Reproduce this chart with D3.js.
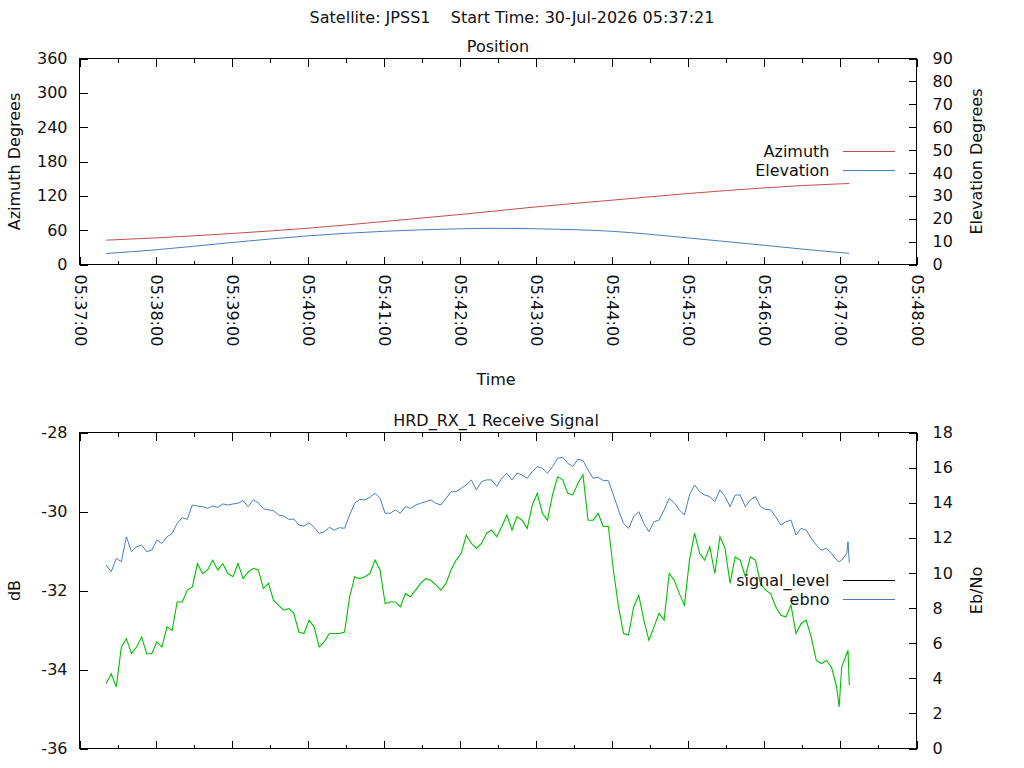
<!DOCTYPE html>
<html>
<head>
<meta charset="utf-8">
<script src="https://cdn.jsdelivr.net/npm/d3@7"></script>
<style>
  body { margin: 0; background: #fff; }
  svg text { font-family: "DejaVu Sans", sans-serif; font-size: 16px; fill: #111; }
  .tick line { stroke: #000; shape-rendering: crispEdges; }
</style>
</head>
<body>
<div id="chart"></div>
<script>
var width = 1024,
    height = 768;

// seconds after 05:37:00 UTC
var posTime   = [21, 60, 120, 180, 240, 300, 330, 360, 420, 480, 540, 600, 607];
var azimuth   = [42.5, 46.5, 54.2, 63.4, 75.1, 87.4, 94, 100.7, 112.4, 124, 133.9, 141, 141.5];
var elevation = [4.8, 6.4, 9.6, 12.5, 14.5, 15.6, 15.8, 15.6, 14.5, 11.6, 8.4, 5.2, 4.9];

var sigTime = [
  21,25,29,33,37,41,45,49,53,57,61,65,69,73,77,81,85,89,93,97,
  101,105,109,113,117,121,125,129,133,137,141,145,149,153,157,161,165,169,173,177,
  181,185,189,193,197,201,205,209,213,217,221,
  225,229,233,237,241,245,249,253,257,261,265,269,273,277,281,285,289,293,297,301,
  305,309,313,317,321,325,329,333,337,341,345,349,353,357,361,365,369,373,377,381,
  385,389,393,397,401,405,409,413,417,421,425,429,433,
  437,441,445,449,453,457,461,465,469,473,477,481,485,489,493,497,501,505,509,513,
  517,521,525,529,533,537,541,545,549,553,557,561,565,569,573,577,581,585,589,593,
  597,599,601,605,606,607
];

var ebno = [
  10.45,10.07,10.83,10.64,12.06,11.21,11.49,11.59,11.21,11.30,
  11.87,11.68,12.06,12.25,12.82,13.15,13.05,13.87,13.81,13.78,
  13.68,13.81,13.74,13.93,13.87,13.93,13.97,14.12,13.78,14.16,
  14.00,13.66,13.59,13.55,13.30,13.24,13.05,13.07,12.73,12.67,
  12.86,12.60,12.25,12.35,12.60,12.44,12.58,12.54,13.30,13.97,
  14.19,
  14.16,14.31,14.54,14.25,13.40,13.40,13.59,13.40,13.78,13.68,
  13.87,13.97,14.06,14.16,13.97,13.87,14.25,14.63,14.63,14.82,
  15.01,15.30,14.73,15.20,15.30,15.30,14.92,15.39,15.68,15.30,
  15.68,15.58,15.39,15.77,16.06,15.96,15.68,16.06,16.53,16.59,
  16.25,16.06,16.48,16.40,15.87,15.39,15.45,15.26,15.26,14.44,
  13.59,12.82,12.54,
  13.20,13.49,12.82,12.35,12.92,13.01,13.59,14.25,14.00,13.59,
  13.30,14.44,15.01,14.63,14.44,14.35,14.06,14.73,14.35,13.78,
  14.44,14.44,13.78,14.16,14.35,13.78,13.62,13.59,13.20,12.73,
  12.92,13.01,12.16,12.54,12.44,11.97,11.59,11.30,11.40,11.11,
  10.73,10.64,10.73,11.11,11.78,10.58
];

var signalLevel = [
  -34.36,-34.11,-34.44,-33.43,-33.22,-33.60,-33.43,-33.18,-33.60,-33.60,
  -33.30,-33.43,-32.92,-33.01,-32.29,-32.29,-31.99,-31.91,-31.32,-31.57,
  -31.48,-31.23,-31.48,-31.32,-31.57,-31.65,-31.32,-31.70,-31.53,-31.44,
  -31.48,-31.95,-31.82,-32.25,-32.37,-32.50,-32.46,-32.58,-33.05,-33.09,
  -32.75,-32.92,-33.43,-33.30,-33.09,-33.09,-33.09,-33.05,-32.16,-31.65,
  -31.70,
  -31.65,-31.57,-31.23,-31.48,-32.33,-32.29,-32.29,-32.41,-32.08,-32.16,
  -31.99,-31.82,-31.70,-31.74,-31.86,-31.99,-31.82,-31.48,-31.23,-31.06,
  -30.60,-30.81,-30.93,-30.81,-30.55,-30.47,-30.64,-30.38,-30.09,-30.47,
  -30.13,-30.22,-30.43,-29.84,-29.54,-30.05,-30.22,-29.58,-29.12,-29.20,
  -29.54,-29.58,-29.29,-29.07,-30.22,-30.22,-30.05,-30.38,-30.38,-31.48,
  -32.41,-33.09,-33.13,
  -32.41,-32.12,-32.75,-33.26,-32.92,-32.58,-32.75,-31.57,-31.74,-32.08,
  -32.37,-31.23,-30.55,-31.06,-31.23,-30.89,-31.57,-30.64,-30.93,-31.82,
  -31.15,-31.23,-31.65,-31.15,-31.23,-31.82,-31.99,-32.08,-32.41,-32.63,
  -32.67,-32.37,-33.09,-32.84,-32.75,-33.18,-33.77,-33.85,-33.77,-33.94,
  -34.44,-34.95,-33.94,-33.60,-33.51,-34.40
];

var azTicks = [0, 60, 120, 180, 240, 300, 360],
    elTicks = [0, 10, 20, 30, 40, 50, 60, 70, 80, 90],
    dbTicks = [-36, -34, -32, -30, -28],
    ebTicks = [0, 2, 4, 6, 8, 10, 12, 14, 16, 18];

var red = '#c0504d', blue = '#4a7ebb', green = '#00c000';

var t0 = Date.UTC(2026, 6, 30, 5, 37, 0);
function toDate(s) { return new Date(t0 + s * 1000); }
function plain(d) { return String(d); }   // keep ASCII hyphen for negatives

var left = 79.5, right = 916.5;
var x = d3.scaleUtc().domain([toDate(0), toDate(660)]).range([left, right]);

var svg = d3.select('#chart').append('svg')
    .attr('width', width)
    .attr('height', height)
    .style('display', 'block')
    .style('background', '#fff');

svg.append('text')
    .attr('x', 512).attr('y', 23)
    .attr('text-anchor', 'middle')
    .style('white-space', 'pre')
    .text('Satellite: JPSS1    Start Time: 30-Jul-2026 05:37:21');

// draws a framed panel with mirrored inward time ticks
function panel(top, bottom, yL, yR, lTicks, rTicks, showTime) {
  var g = svg.append('g');

  var xb = g.append('g').attr('transform', 'translate(0,' + bottom + ')');
  xb.call(d3.axisBottom(x).ticks(d3.utcSecond.every(30)).tickSize(-4).tickFormat(''));
  xb.select('.domain').remove();
  var xm = g.append('g').attr('transform', 'translate(0,' + bottom + ')');
  xm.call(d3.axisBottom(x).ticks(d3.utcMinute.every(1)).tickSize(-8)
      .tickFormat(showTime ? d3.utcFormat('%H:%M:%S') : ''));
  xm.select('.domain').remove();
  if (showTime) {
    xm.selectAll('text')
      .attr('dy', null)
      .attr('x', 10)
      .attr('y', 5.5)
      .attr('text-anchor', 'start')
      .attr('transform', 'rotate(90)');
  }

  var xt = g.append('g').attr('transform', 'translate(0,' + top + ')');
  xt.call(d3.axisTop(x).ticks(d3.utcSecond.every(30)).tickSize(-4).tickFormat(''));
  xt.select('.domain').remove();
  var xt2 = g.append('g').attr('transform', 'translate(0,' + top + ')');
  xt2.call(d3.axisTop(x).ticks(d3.utcMinute.every(1)).tickSize(-8).tickFormat(''));
  xt2.select('.domain').remove();

  var ya = g.append('g').attr('transform', 'translate(' + left + ',0)');
  ya.call(d3.axisLeft(yL).tickValues(lTicks).tickSize(-8).tickPadding(12).tickFormat(plain));
  ya.select('.domain').remove();

  var yb = g.append('g').attr('transform', 'translate(' + right + ',0)');
  yb.call(d3.axisRight(yR).tickValues(rTicks).tickSize(-8).tickPadding(16).tickFormat(plain));
  yb.select('.domain').remove();

  g.selectAll('.tick text').style('font-family', '"DejaVu Sans", sans-serif').style('font-size', '16px').attr('fill', '#111');

  g.append('rect')
    .attr('x', left).attr('y', top)
    .attr('width', right - left).attr('height', bottom - top)
    .attr('fill', 'none').attr('stroke', '#000').attr('stroke-width', 1)
    .attr('shape-rendering', 'crispEdges');
  return g;
}

function sideLabel(txt, xb, yc) {
  svg.append('text')
    .attr('transform', 'translate(' + xb + ',' + yc + ') rotate(-90)')
    .attr('text-anchor', 'middle')
    .text(txt);
}

function legendRow(txt, y, color) {
  svg.append('text').attr('x', 829.5).attr('y', y + 5).attr('text-anchor', 'end').text(txt);
  svg.append('line')
    .attr('x1', 843).attr('x2', 895).attr('y1', y).attr('y2', y)
    .attr('stroke', color).attr('stroke-width', 1);
}

// ---- Position panel
var pTop = 58.5, pBot = 264.5;
var yAz = d3.scaleLinear().domain([0, 360]).range([pBot, pTop]);
var yEl = d3.scaleLinear().domain([0, 90]).range([pBot, pTop]);

svg.append('text').attr('x', 498).attr('y', 52).attr('text-anchor', 'middle').text('Position');
panel(pTop, pBot, yAz, yEl, azTicks, elTicks, true);
sideLabel('Azimuth Degrees', 20, (pTop + pBot) / 2);
sideLabel('Elevation Degrees', 982, (pTop + pBot) / 2);
svg.append('text').attr('x', 496).attr('y', 385).attr('text-anchor', 'middle').text('Time');

var posIdx = d3.range(posTime.length);
svg.append('path')
  .attr('fill', 'none').attr('stroke', red).attr('stroke-width', 1)
  .attr('d', d3.line().curve(d3.curveMonotoneX)
    .x(function (i) { return x(toDate(posTime[i])); })
    .y(function (i) { return yAz(azimuth[i]); })(posIdx));
svg.append('path')
  .attr('fill', 'none').attr('stroke', blue).attr('stroke-width', 1)
  .attr('d', d3.line().curve(d3.curveMonotoneX)
    .x(function (i) { return x(toDate(posTime[i])); })
    .y(function (i) { return yEl(elevation[i]); })(posIdx));

legendRow('Azimuth', 151.5, red);
legendRow('Elevation', 170.5, blue);

// ---- Receive signal panel
var sTop = 432.5, sBot = 748.5;
var yDb = d3.scaleLinear().domain([-36, -28]).range([sBot, sTop]);
var yEb = d3.scaleLinear().domain([0, 18]).range([sBot, sTop]);

svg.append('text').attr('x', 496).attr('y', 426).attr('text-anchor', 'middle').text('HRD_RX_1 Receive Signal');
panel(sTop, sBot, yDb, yEb, dbTicks, ebTicks, false);
sideLabel('dB', 20, (sTop + sBot) / 2);
sideLabel('Eb/No', 982, (sTop + sBot) / 2);

var sigIdx = d3.range(sigTime.length);
svg.append('path')
  .attr('fill', 'none').attr('stroke', blue).attr('stroke-width', 1)
  .attr('d', d3.line()
    .x(function (i) { return x(toDate(sigTime[i])); })
    .y(function (i) { return yEb(ebno[i]); })(sigIdx));
svg.append('path')
  .attr('fill', 'none').attr('stroke', green).attr('stroke-width', 1.1)
  .attr('d', d3.line()
    .x(function (i) { return x(toDate(sigTime[i])); })
    .y(function (i) { return yDb(signalLevel[i]); })(sigIdx));

legendRow('signal_level', 580.5, '#000');
legendRow('ebno', 599.5, blue);
</script>
</body>
</html>
